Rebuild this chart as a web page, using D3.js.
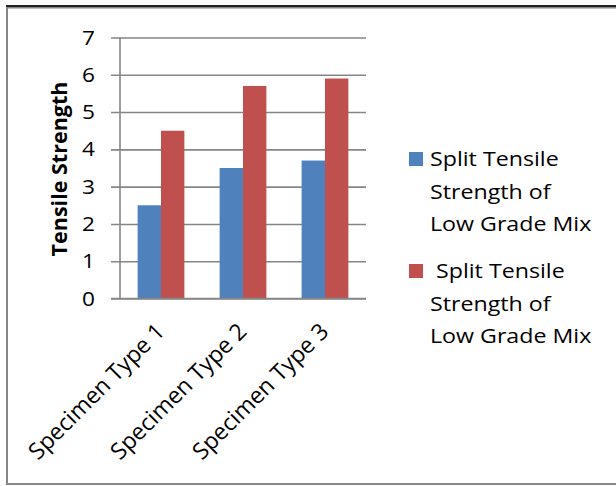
<!DOCTYPE html>
<html><head><meta charset="utf-8">
<script src="https://cdn.jsdelivr.net/npm/d3@7"></script>
<style>
html,body{margin:0;padding:0;background:#fff;}
svg{display:block;}
text{font-family:"Open Sans",sans-serif;fill:#000;}
</style></head>
<body>
<svg id="chart" width="616" height="486"></svg>
<script>
const categories = ["Specimen Type 1", "Specimen Type 2", "Specimen Type 3"];
const seriesNames = ["Split Tensile Strength of Low Grade Mix", " Split Tensile Strength of Low Grade Mix"];
const seriesBlue = [2.5, 3.5, 3.7];
const seriesRed = [4.5, 5.7, 5.9];
const yTicks = [0, 1, 2, 3, 4, 5, 6, 7];
const yTitle = "Tensile Strength";
const legendLines = [["Split Tensile", "Strength of", "Low Grade Mix"], [" Split Tensile", "Strength of", "Low Grade Mix"]];
const colors = ["#4F81BD", "#C0504D"];

const svg = d3.select("#chart");
const SX = 1.16; // horizontal stretch seen in the reference text

// chart frame
svg.append("rect").attr("x", 7).attr("y", 7.5).attr("width", 640).attr("height", 476.5)
  .attr("fill", "#fff").attr("stroke", "#868686").attr("stroke-width", 2);
svg.append("line").attr("x1", 6).attr("x2", 616).attr("y1", 6).attr("y2", 6)
  .attr("stroke", "#222").attr("stroke-width", 2);

const x0 = d3.scaleBand().domain(categories).range([120, 366]).paddingInner(0.43).paddingOuter(0.215);
const x1 = d3.scaleBand().domain([0, 1]).range([0, x0.bandwidth()]);
const y = d3.scaleLinear().domain([0, 7]).range([298.5, 37.5]);

// gridlines + ticks
const yAxis = d3.axisLeft(y).tickValues(yTicks).tickSize(-(366 - 111)).tickFormat("");
const gy = svg.append("g").attr("transform", "translate(111,0)").call(yAxis);
gy.select(".domain").remove();
gy.selectAll(".tick line").attr("stroke", "#868686").attr("stroke-width", 1.6);

// tick labels
svg.append("g").selectAll("text").data(yTicks).join("text")
  .attr("transform", d => `translate(95,${y(d)}) scale(${SX},1)`)
  .attr("text-anchor", "end").attr("dy", "0.36em").attr("font-size", 19.5)
  .text(d3.format("d"));

// vertical axis line
svg.append("line").attr("x1", 120).attr("x2", 120).attr("y1", y(7)).attr("y2", y(0))
  .attr("stroke", "#868686").attr("stroke-width", 1.6);

// bars
const data = categories.map((c, i) => ({c, vals: [seriesBlue[i], seriesRed[i]]}));
const groups = svg.append("g").selectAll("g").data(data).join("g")
  .attr("transform", d => `translate(${x0(d.c)},0)`);
groups.selectAll("rect").data(d => d.vals.map((v, k) => ({v, k}))).join("rect")
  .attr("x", d => x1(d.k)).attr("width", x1.bandwidth())
  .attr("y", d => y(d.v)).attr("height", d => y(0) - y(d.v))
  .attr("fill", d => colors[d.k]);

// baseline above bars
svg.append("line").attr("x1", 111).attr("x2", 366).attr("y1", y(0)).attr("y2", y(0))
  .attr("stroke", "#868686").attr("stroke-width", 1.6);

// x labels
svg.append("g").selectAll("text").data(categories).join("text")
  .attr("transform", d => `translate(${x0(d) + x0.bandwidth() / 2 + 5},333) rotate(-45)`)
  .attr("text-anchor", "end").attr("font-size", 23).text(d => d);

// y title
svg.append("text").attr("transform", "translate(66.5,169) rotate(-90)")
  .attr("text-anchor", "middle").attr("font-size", 21.5).attr("font-weight", "bold").text(yTitle);

// legend
const leg = svg.append("g");
const legTop = [152, 264];
legendLines.forEach((lines, i) => {
  leg.append("rect").attr("x", 409).attr("y", legTop[i]).attr("width", 14).attr("height", 14)
    .attr("fill", colors[i]);
  lines.forEach((t, j) => {
    leg.append("text").attr("transform", `translate(430,${legTop[i] + 14 + j * 32.5}) scale(${SX},1)`)
      .attr("font-size", 20).attr("xml:space", "preserve").style("white-space", "pre").text(t);
  });
});
</script>
</body></html>
